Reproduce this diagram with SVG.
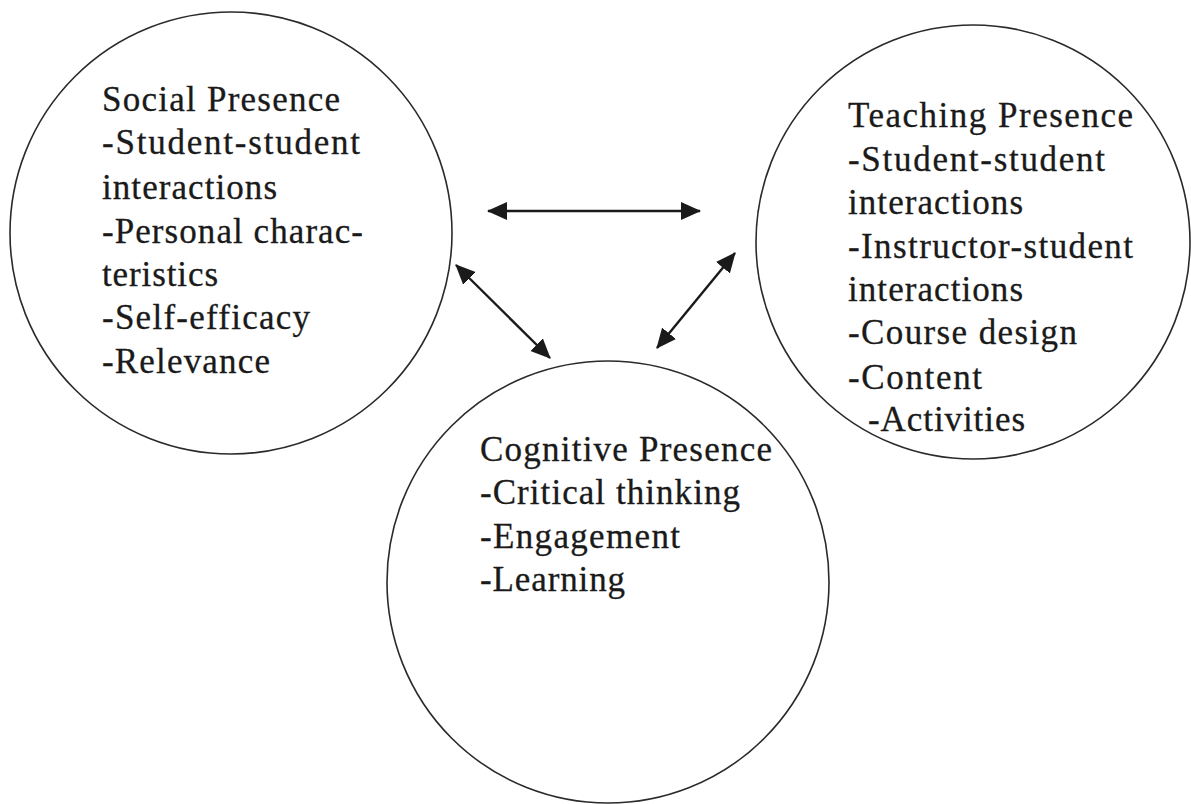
<svg xmlns="http://www.w3.org/2000/svg" width="1191" height="804" viewBox="0 0 1191 804">
<style>
.c{fill:none;stroke:#2a2a2a;stroke-width:1.6}
.t{font-family:"Liberation Serif","Times New Roman",serif;font-size:35px;fill:#1a1a1a;stroke:#1a1a1a;stroke-width:0.3}
.a{stroke:#1a1a1a;stroke-width:2.4;fill:none;marker-start:url(#h);marker-end:url(#h)}
</style>
<defs>
<marker id="h" viewBox="0 0 20 18" refX="19" refY="9" markerWidth="20" markerHeight="18" markerUnits="userSpaceOnUse" orient="auto-start-reverse">
<path d="M0,0 L20,9 L0,18 Z" fill="#1a1a1a"/>
</marker>
</defs>
<rect width="1191" height="804" fill="#fff"/>
<g id="social">
<circle class="c" cx="231" cy="233" r="221"/>
<text class="t">
<tspan x="102" y="111" textLength="238" lengthAdjust="spacing">Social Presence</tspan>
<tspan x="102" y="154" textLength="258" lengthAdjust="spacing">-Student-student</tspan>
<tspan x="102" y="199" textLength="175" lengthAdjust="spacing">interactions</tspan>
<tspan x="102" y="243" textLength="261" lengthAdjust="spacing">-Personal charac-</tspan>
<tspan x="102" y="286" textLength="116" lengthAdjust="spacing">teristics</tspan>
<tspan x="102" y="329" textLength="208" lengthAdjust="spacing">-Self-efficacy</tspan>
<tspan x="102" y="373" textLength="168" lengthAdjust="spacing">-Relevance</tspan>
</text>
</g>
<g id="teaching">
<circle class="c" cx="973" cy="242" r="217"/>
<text class="t">
<tspan x="848" y="127" textLength="285" lengthAdjust="spacing">Teaching Presence</tspan>
<tspan x="848" y="171" textLength="257" lengthAdjust="spacing">-Student-student</tspan>
<tspan x="848" y="214" textLength="175" lengthAdjust="spacing">interactions</tspan>
<tspan x="848" y="258" textLength="285" lengthAdjust="spacing">-Instructor-student</tspan>
<tspan x="848" y="301" textLength="175" lengthAdjust="spacing">interactions</tspan>
<tspan x="848" y="344" textLength="229" lengthAdjust="spacing">-Course design</tspan>
<tspan x="848" y="389" textLength="134" lengthAdjust="spacing">-Content</tspan>
<tspan x="868" y="431" textLength="157" lengthAdjust="spacing">-Activities</tspan>
</text>
</g>
<g id="cognitive">
<circle class="c" cx="608" cy="582" r="221"/>
<text class="t">
<tspan x="480" y="461" textLength="292" lengthAdjust="spacing">Cognitive Presence</tspan>
<tspan x="480" y="504" textLength="260" lengthAdjust="spacing">-Critical thinking</tspan>
<tspan x="480" y="548" textLength="200" lengthAdjust="spacing">-Engagement</tspan>
<tspan x="480" y="591" textLength="145" lengthAdjust="spacing">-Learning</tspan>
</text>
</g>
<g id="connectors">
<line class="a" x1="488" y1="211" x2="700" y2="211"/>
<line class="a" x1="456" y1="265" x2="550" y2="358"/>
<line class="a" x1="735" y1="253" x2="657" y2="348"/>
</g>
</svg>
